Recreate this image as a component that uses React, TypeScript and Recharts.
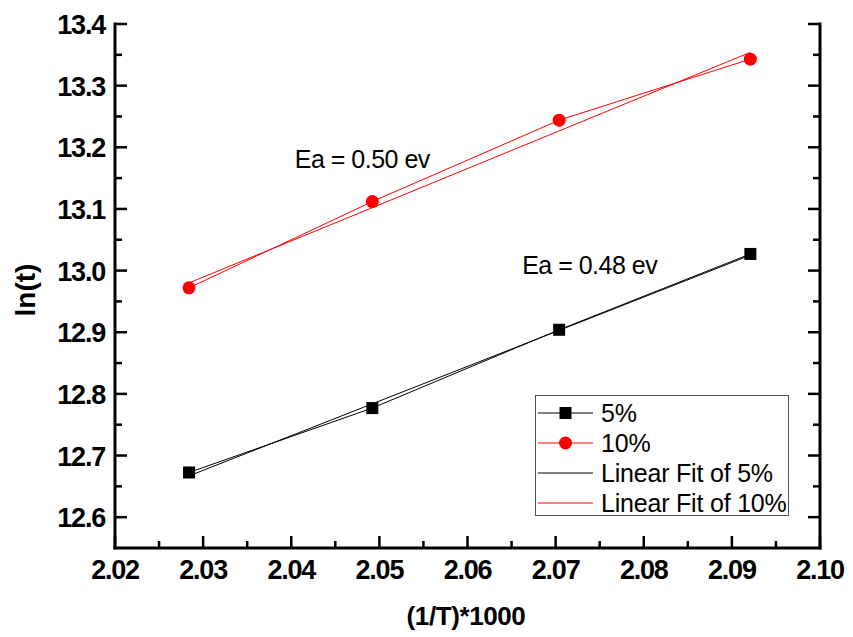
import React from 'react';
import { LineChart, Line, XAxis, YAxis, Legend, ReferenceDot } from 'recharts';

// Inverse temperature (1/T)*1000 for the four measurement temperatures
const invTemp = [2.0284, 2.0492, 2.0704, 2.0921];
// ln(t) measured for each doping level
const lnT5 = [12.6725, 12.777, 12.904, 13.027];
const lnT10 = [12.972, 13.112, 13.244, 13.343];
// Linear fit end points (first and last temperature)
const fitX = [2.0284, 2.0921];
const fit5 = [12.667, 13.025];
const fit10 = [12.98, 13.354];

const xTicks = [2.02, 2.025, 2.03, 2.035, 2.04, 2.045, 2.05, 2.055, 2.06, 2.065, 2.07, 2.075, 2.08, 2.085, 2.09, 2.095, 2.1];
const yTicks = [12.6, 12.65, 12.7, 12.75, 12.8, 12.85, 12.9, 12.95, 13.0, 13.05, 13.1, 13.15, 13.2, 13.25, 13.3, 13.35, 13.4];

const legendOrder = ['5%', '10%', 'Linear Fit of 5%', 'Linear Fit of 10%'];

const annotations = [
  { text: 'Ea = 0.50 ev', x: 2.0404, y: 13.181 },
  { text: 'Ea = 0.48 ev', x: 2.0662, y: 13.009 },
];

const zip = (xs: number[], ys: number[]) => xs.map((x, i) => ({ x, y: ys[i] }));
const data5 = zip(invTemp, lnT5);
const data10 = zip(invTemp, lnT10);
const dataFit5 = zip(fitX, fit5);
const dataFit10 = zip(fitX, fit10);

const FONT = 'Arial, "Liberation Sans", Helvetica, sans-serif';
const isMajorX = (v: number) => Math.round(v * 1000) % 10 === 0;
const isMajorY = (v: number) => Math.round(v * 100) % 10 === 0;

const BottomTick = (props: any) => {
  const { x, y, payload } = props;
  const major = isMajorX(payload.value);
  return (
    <g>
      <line x1={x} x2={x} y1={y} y2={y - (major ? 12 : 7)} stroke="#000" strokeWidth={2.5} />
      {major && (
        <text x={x} y={y + 31} textAnchor="middle" fontFamily={FONT} fontWeight="bold" fontSize={27} letterSpacing={-1.2} fill="#000">
          {payload.value.toFixed(2)}
        </text>
      )}
    </g>
  );
};

const TopTick = (props: any) => {
  const { x, y, payload } = props;
  const major = isMajorX(payload.value);
  return <line x1={x} x2={x} y1={y} y2={y + (major ? 12 : 7)} stroke="#000" strokeWidth={2.5} />;
};

const LeftTick = (props: any) => {
  const { x, y, payload } = props;
  const major = isMajorY(payload.value);
  return (
    <g>
      <line x1={x} x2={x + (major ? 12 : 7)} y1={y} y2={y} stroke="#000" strokeWidth={2.5} />
      {major && (
        <text x={x - 10} y={y + 10} textAnchor="end" fontFamily={FONT} fontWeight="bold" fontSize={27} letterSpacing={-1.2} fill="#000">
          {payload.value.toFixed(1)}
        </text>
      )}
    </g>
  );
};

const RightTick = (props: any) => {
  const { x, y, payload } = props;
  const major = isMajorY(payload.value);
  return <line x1={x} x2={x - (major ? 12 : 7)} y1={y} y2={y} stroke="#000" strokeWidth={2.5} />;
};

const LegendBox = (props: any) => {
  const items = [...(props.payload || [])].sort(
    (a: any, b: any) => legendOrder.indexOf(a.value) - legendOrder.indexOf(b.value)
  );
  return (
    <div style={{ border: '1px solid #555', background: '#fff', width: 252, height: 117, boxSizing: 'content-box', paddingTop: 2 }}>
      {items.map((e: any) => (
        <div key={e.value} style={{ display: 'flex', alignItems: 'center', height: 30 }}>
          <svg width={65} height={30} style={{ flex: 'none' }}>
            <line x1={2} x2={57} y1={15} y2={15} stroke={e.color} strokeWidth={1} />
            {e.type === 'square' && <rect x={23.5} y={9} width={12} height={12} fill={e.color} />}
            {e.type === 'circle' && <circle cx={29.5} cy={15} r={6.5} fill={e.color} />}
          </svg>
          <span style={{ fontFamily: FONT, fontSize: 25, letterSpacing: -0.2, color: '#000', lineHeight: '30px', whiteSpace: 'nowrap' }}>
            {e.value}
          </span>
        </div>
      ))}
    </div>
  );
};

const SquareDot = (props: any) => {
  const { cx, cy } = props;
  return <rect x={cx - 6} y={cy - 6} width={12} height={12} fill="#000" />;
};

const axisLineStyle = { stroke: '#000', strokeWidth: 3, strokeLinecap: 'square' as const };

export default function App() {
  return (
    <div style={{ position: 'absolute', left: 0, top: 0, background: '#fff' }}>
      <LineChart width={853} height={637} margin={{ top: 24, right: 32, bottom: 49, left: 55 }}>
        <XAxis
          xAxisId="bottom"
          dataKey="x"
          type="number"
          domain={[2.02, 2.1]}
          ticks={xTicks}
          interval={0}
          allowDataOverflow
          height={40}
          tickSize={0}
          tickMargin={0}
          tickLine={false}
          axisLine={axisLineStyle}
          tick={<BottomTick />}
          label={{
            content: (p: any) => (
              <text x={466} y={625} textAnchor="middle" fontFamily={FONT} fontWeight="bold" fontSize={26} letterSpacing={-0.4} fill="#000">
                (1/T)*1000
              </text>
            ),
          }}
        />
        <XAxis
          xAxisId="top"
          dataKey="x"
          type="number"
          orientation="top"
          domain={[2.02, 2.1]}
          ticks={xTicks}
          interval={0}
          allowDataOverflow
          height={0}
          tickSize={0}
          tickMargin={0}
          tickLine={false}
          axisLine={axisLineStyle}
          tick={<TopTick />}
        />
        <YAxis
          yAxisId="left"
          type="number"
          domain={[12.55, 13.4]}
          ticks={yTicks}
          interval={0}
          allowDataOverflow
          width={60}
          tickSize={0}
          tickMargin={0}
          tickLine={false}
          axisLine={axisLineStyle}
          tick={<LeftTick />}
          label={{
            content: () => (
              <text x={35} y={290} transform="rotate(-90 35 290)" textAnchor="middle" fontFamily={FONT} fontWeight="bold" fontSize={28} fill="#000">
                ln(t)
              </text>
            ),
          }}
        />
        <YAxis
          yAxisId="right"
          type="number"
          orientation="right"
          domain={[12.55, 13.4]}
          ticks={yTicks}
          interval={0}
          allowDataOverflow
          width={1}
          tickSize={0}
          tickMargin={0}
          tickLine={false}
          axisLine={axisLineStyle}
          tick={<RightTick />}
        />
        <Line
          xAxisId="bottom"
          yAxisId="left"
          data={dataFit5}
          dataKey="y"
          name="Linear Fit of 5%"
          stroke="#000"
          strokeWidth={1}
          dot={false}
          legendType="line"
          isAnimationActive={false}
        />
        <Line
          xAxisId="bottom"
          yAxisId="left"
          data={dataFit10}
          dataKey="y"
          name="Linear Fit of 10%"
          stroke="#ff0000"
          strokeWidth={1}
          dot={false}
          legendType="line"
          isAnimationActive={false}
        />
        <Line
          xAxisId="bottom"
          yAxisId="left"
          data={data5}
          dataKey="y"
          name="5%"
          stroke="#000"
          strokeWidth={1}
          dot={<SquareDot />}
          legendType="square"
          isAnimationActive={false}
        />
        <Line
          xAxisId="bottom"
          yAxisId="left"
          data={data10}
          dataKey="y"
          name="10%"
          stroke="#ff0000"
          strokeWidth={1}
          dot={{ r: 6.5, fill: '#ff0000', stroke: 'none' }}
          legendType="circle"
          isAnimationActive={false}
        />
        {annotations.map((a) => (
          <ReferenceDot
            key={a.text}
            xAxisId="bottom"
            yAxisId="left"
            x={a.x}
            y={a.y}
            r={0}
            fill="none"
            stroke="none"
            label={{
              content: (p: any) => (
                <text x={p.viewBox.x} y={p.viewBox.y + 9} fontFamily={FONT} fontSize={25} letterSpacing={-0.5} fill="#000">
                  {a.text}
                </text>
              ),
            }}
          />
        ))}
        <Legend
          layout="vertical"
          align="center"
          verticalAlign="middle"
          content={<LegendBox />}
          wrapperStyle={{ position: 'absolute', left: 535, top: 395, width: 254, height: 121 }}
        />
      </LineChart>
    </div>
  );
}
